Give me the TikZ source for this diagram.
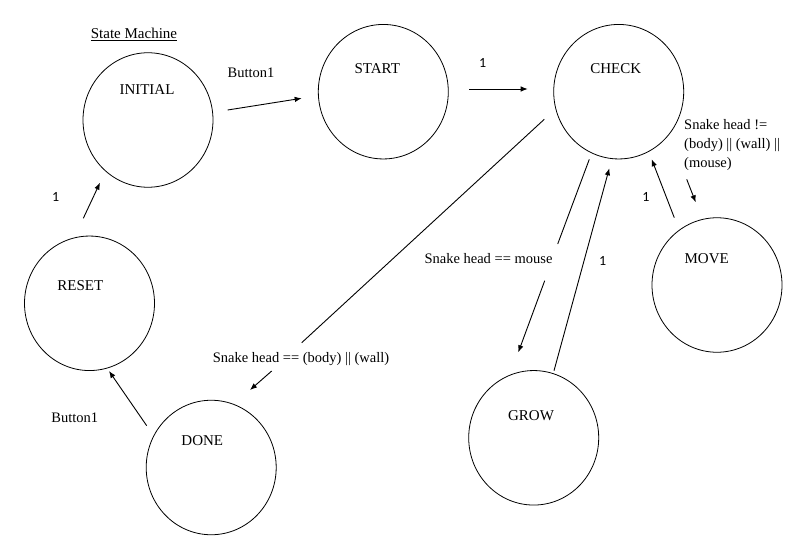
\documentclass[tikz,border=0pt]{standalone}
\usepackage{fontspec}
\setmainfont{Liberation Serif}
\newfontfamily\numfont{Carlito}
\usetikzlibrary{arrows.meta,shapes.geometric}
\begin{document}
\begin{tikzpicture}[x=1pt,y=-1pt,
  state/.style={ellipse, draw, line width=0.8pt, minimum width=130pt, minimum height=134.5pt, inner sep=0pt},
  sname/.style={anchor=base, font=\fontsize{15}{18}\selectfont, inner sep=0pt},
  lbl/.style={anchor=base, font=\fontsize{14.5}{19}\selectfont, inner sep=0pt},
  num/.style={anchor=base, font=\numfont\fontsize{14}{16}\selectfont, inner sep=0pt},
  trans/.style={line width=0.9pt, -{Latex[length=7pt,width=5.5pt]}},
  bareline/.style={line width=0.9pt}]
\useasboundingbox (0,0) rectangle (805,556);

% states
\node[state] (initial) at (148,120) {};
\node[state] (start) at (383.3,91.7) {};
\node[state] (check) at (618.7,91.7) {};
\node[state] (reset) at (89.5,303.3) {};
\node[state] (done) at (211.2,467.5) {};
\node[state] (grow) at (533.7,437.8) {};
\node[state] (move) at (717,285) {};

% state names
\node[sname] (tinitial) at (147,94.3) {INITIAL};
\node[sname] (tstart) at (377.3,73.3) {START};
\node[sname] (tcheck) at (615.7,73.3) {CHECK};
\node[sname] (treset) at (80.3,290.7) {RESET};
\node[sname] (tdone) at (202.3,445.7) {DONE};
\node[sname] (tgrow) at (531,420.7) {GROW};
\node[sname] (tmove) at (706.7,263.3) {MOVE};

% title
\node[anchor=base, font=\fontsize{15}{18}\selectfont, inner sep=0pt] (title) at (134,38.3) {\underline{State Machine}};

% labels
\node[lbl] (lb1) at (251,77.3) {Button1};
\node[lbl] (lb2) at (74.7,422.3) {Button1};
\node[lbl] (ldie) at (301,362.3) {Snake head == (body) || (wall)};
\node[lbl] (leat) at (488.5,263.3) {Snake head == mouse};
\node[anchor=north west, align=left, font=\fontsize{14.5}{19}\selectfont, inner sep=0pt] (lmove) at (684,119.3) {Snake head !=\\(body) || (wall) ||\\(mouse)};

\node[num] (n1) at (55.7,201.7) {1};
\node[num] (n2) at (482.7,68) {1};
\node[num] (n3) at (646,201.7) {1};
\node[num] (n4) at (602.7,265) {1};

% connector end points
\coordinate (c1s) at (227.7,110);   \coordinate (c1e) at (301.7,98.3);
\coordinate (c2s) at (469,89);      \coordinate (c2e) at (527.7,89);
\coordinate (c3s) at (544.3,119.3); \coordinate (c3e) at (301.7,342.7);
\coordinate (c4s) at (271.7,371);   \coordinate (c4e) at (250,390);
\coordinate (c5s) at (146.7,425.7); \coordinate (c5e) at (109,371);
\coordinate (c6s) at (83.3,218.3);  \coordinate (c6e) at (100,182.7);
\coordinate (c7s) at (589.3,159.3); \coordinate (c7e) at (557.7,244);
\coordinate (c8s) at (544.7,280.7); \coordinate (c8e) at (518.3,352.3);
\coordinate (c9s) at (554,370.7);   \coordinate (c9e) at (609.3,168.3);
\coordinate (c10s) at (674.3,217.7); \coordinate (c10e) at (651.7,159.3);
\coordinate (c11s) at (686.7,179.3); \coordinate (c11e) at (695.7,202.3);

% connectors
\draw[trans] (c1s) -- (c1e);
\draw[trans] (c2s) -- (c2e);
\draw[bareline] (c3s) -- (c3e);
\draw[trans] (c4s) -- (c4e);
\draw[trans] (c5s) -- (c5e);
\draw[trans] (c6s) -- (c6e);
\draw[bareline] (c7s) -- (c7e);
\draw[trans] (c8s) -- (c8e);
\draw[trans] (c9s) -- (c9e);
\draw[trans] (c10s) -- (c10e);
\draw[trans] (c11s) -- (c11e);
\end{tikzpicture}
\end{document}
